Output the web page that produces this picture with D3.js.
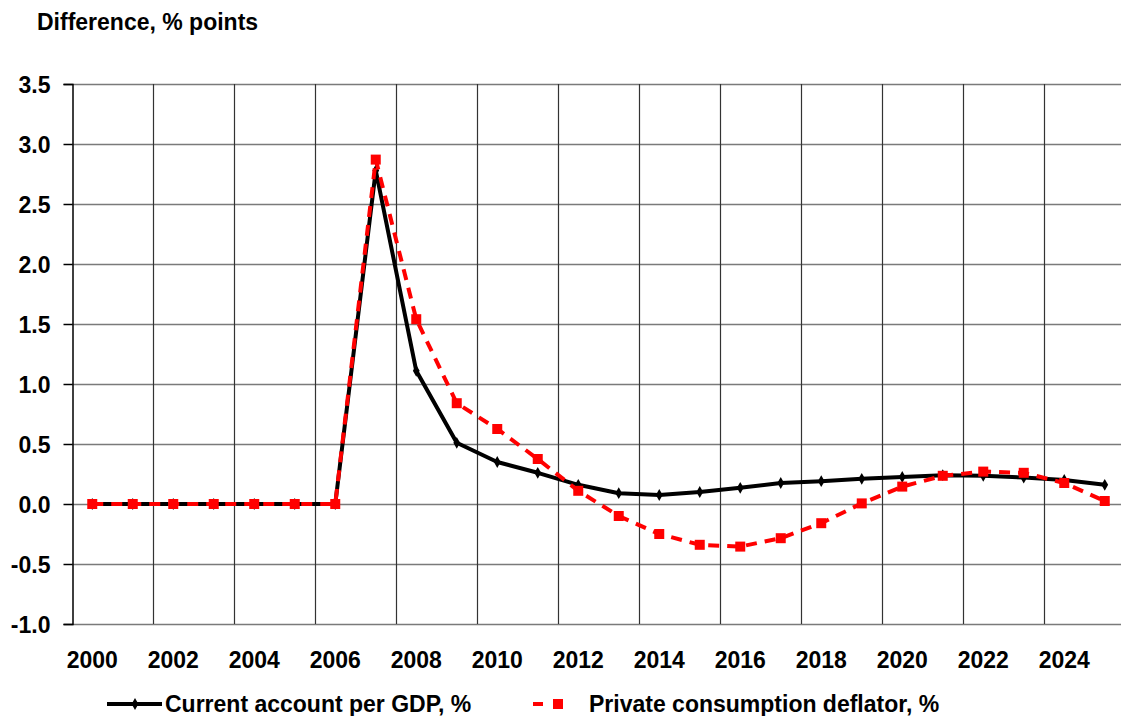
<!DOCTYPE html>
<html>
<head>
<meta charset="utf-8">
<script src="https://cdn.jsdelivr.net/npm/d3@7"></script>
<style>
  body { margin: 0; background: #fff; }
  text { font-family: "Liberation Sans", Arial, sans-serif; font-weight: bold; fill: #000; }
</style>
</head>
<body>
<svg id="chart" width="1121" height="716"></svg>
<script>
const YEARS = d3.range(2000, 2026);
const CURRENT_ACCOUNT = [0, 0, 0, 0, 0, 0, 0, 2.78, 1.11, 0.51, 0.35, 0.26, 0.16, 0.09, 0.075, 0.10,
    0.135, 0.175, 0.19, 0.21, 0.225, 0.24, 0.235, 0.22, 0.20, 0.16];
const DEFLATOR = [0, 0, 0, 0, 0, 0, 0, 2.87, 1.54, 0.84, 0.625, 0.375, 0.11, -0.10, -0.25, -0.34,
    -0.355, -0.285, -0.16, 0.005, 0.145, 0.235, 0.27, 0.26, 0.175, 0.025];
const Y_TICKS = [-1.0, -0.5, 0, 0.5, 1.0, 1.5, 2.0, 2.5, 3.0, 3.5];
const X_LABELS = [2000, 2002, 2004, 2006, 2008, 2010, 2012, 2014, 2016, 2018, 2020, 2022, 2024];
const SERIES_NAMES = ["Current account per GDP, %", "Private consumption deflator, %"];
const Y_TITLE = "Difference, % points";

const svg = d3.select("#chart");
const plot = { left: 72, right: 1125, top: 84, bottom: 624 };

let xScale = d3.scaleBand().domain(YEARS).range([plot.left, plot.right]);
let yScale = d3.scaleLinear().domain([-1, 3.5]).range([plot.bottom, plot.top]);
const xc = (yr) => xScale(yr) + xScale.bandwidth() / 2;

// horizontal gridlines
svg.append("g")
    .selectAll("line")
    .data(Y_TICKS)
    .enter()
    .append("line")
    .attr("x1", plot.left)
    .attr("x2", plot.right)
    .attr("y1", (d) => Math.round(yScale(d)) + 0.5)
    .attr("y2", (d) => Math.round(yScale(d)) + 0.5)
    .attr("stroke", "#7a7a7a")
    .attr("stroke-width", 1.6);

// vertical gridlines at category boundaries (every two years)
svg.append("g")
    .selectAll("line")
    .data(X_LABELS.slice(1))
    .enter()
    .append("line")
    .attr("x1", (d) => Math.round(xScale(d)) + 0.5)
    .attr("x2", (d) => Math.round(xScale(d)) + 0.5)
    .attr("y1", plot.top)
    .attr("y2", plot.bottom)
    .attr("stroke", "#333")
    .attr("stroke-width", 1.2);

// y axis
const fmt = d3.format(".1f");
let yAxis = d3.axisLeft(yScale).tickValues(Y_TICKS).tickSize(9).tickPadding(13)
    .tickFormat((d) => fmt(d).replace("\u2212", "-"));
const yg = svg.append("g")
    .attr("transform", `translate(${plot.left + 0.5},0)`)
    .call(yAxis);
yg.select(".domain").attr("stroke", "#000").attr("stroke-width", 1.5);
yg.selectAll(".tick line").attr("stroke", "#000").attr("stroke-width", 1.5);
yg.selectAll("text").style("font-size", "23px").attr("dy", "0.36em");

// x labels
svg.append("g")
    .selectAll("text")
    .data(X_LABELS)
    .enter()
    .append("text")
    .attr("x", (d) => xc(d))
    .attr("y", 668)
    .attr("text-anchor", "middle")
    .style("font-size", "23px")
    .text((d) => d);

// title
svg.append("text")
    .attr("x", 37)
    .attr("y", 30)
    .style("font-size", "23px")
    .text(Y_TITLE);

const line = d3.line().x((d) => xc(d.year)).y((d) => yScale(d.value));
const caData = YEARS.map((y, i) => ({ year: y, value: CURRENT_ACCOUNT[i] }));
const dfData = YEARS.map((y, i) => ({ year: y, value: DEFLATOR[i] }));
const diamond = d3.symbol().type(d3.symbolDiamond).size(40);

// black series
svg.append("path")
    .attr("d", line(caData))
    .attr("fill", "none")
    .attr("stroke", "#000")
    .attr("stroke-width", 4)
    .attr("stroke-linejoin", "round");
svg.append("g")
    .selectAll("path")
    .data(caData)
    .enter()
    .append("path")
    .attr("d", diamond)
    .attr("transform", (d) => `translate(${xc(d.year)},${yScale(d.value)})`)
    .attr("fill", "#000");

// red series
svg.append("path")
    .attr("d", line(dfData))
    .attr("fill", "none")
    .attr("stroke", "#ff0000")
    .attr("stroke-width", 4)
    .attr("stroke-dasharray", "11,8");
svg.append("g")
    .selectAll("rect")
    .data(dfData)
    .enter()
    .append("rect")
    .attr("x", (d) => xc(d.year) - 5)
    .attr("y", (d) => yScale(d.value) - 5)
    .attr("width", 10)
    .attr("height", 10)
    .attr("fill", "#ff0000");

// legend
const ly = 704;
svg.append("line").attr("x1", 107).attr("x2", 162).attr("y1", ly).attr("y2", ly)
    .attr("stroke", "#000").attr("stroke-width", 4);
svg.append("path").attr("d", diamond).attr("transform", `translate(135,${ly})`).attr("fill", "#000");
svg.append("text").attr("x", 165).attr("y", ly).attr("dy", "0.36em")
    .style("font-size", "23px").text(SERIES_NAMES[0]);

svg.append("line").attr("x1", 533).attr("x2", 573).attr("y1", ly).attr("y2", ly)
    .attr("stroke", "#ff0000").attr("stroke-width", 4).attr("stroke-dasharray", "10,10");
svg.append("rect").attr("x", 553).attr("y", ly - 5).attr("width", 10).attr("height", 10).attr("fill", "#ff0000");
svg.append("text").attr("x", 589).attr("y", ly).attr("dy", "0.36em")
    .style("font-size", "23px").text(SERIES_NAMES[1]);
</script>
</body>
</html>
